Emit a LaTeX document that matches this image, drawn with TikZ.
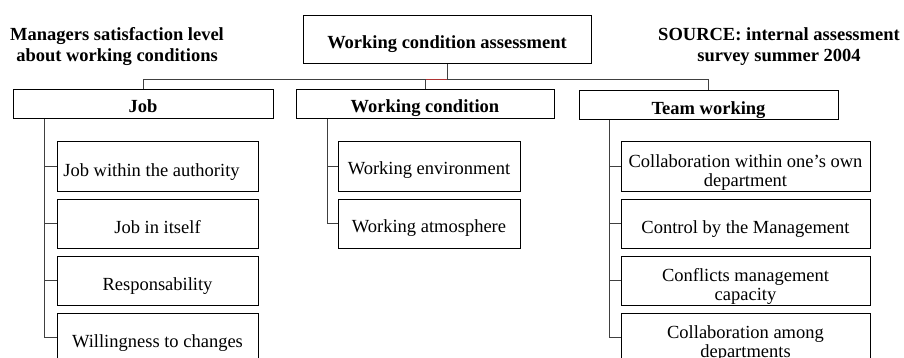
\documentclass[tikz,border=0pt]{standalone}
\usepackage{fontspec}
\setmainfont{Liberation Serif}
\begin{document}
\begin{tikzpicture}[x=1pt,y=-1pt,
  box/.style={draw=black,line width=1pt,inner sep=0pt},
  stxt/.style={inner sep=0pt,text height=24pt,text depth=4pt,font=\fontsize{18.5}{18.3}\selectfont},
  mtxt/.style={inner sep=0pt,align=center,yshift=-6pt,font=\fontsize{18.5}{18.5}\selectfont},
  htxt/.style={inner sep=0pt,text height=21pt,text depth=4pt,font=\fontsize{18.5}{18.3}\selectfont\bfseries},
  headbox/.style={box,minimum height=29pt},
  subbox/.style={box,minimum height=49pt},
  conn/.style={draw=black!75,line width=0.8pt},
  note/.style={align=center,font=\fontsize{18.5}{21}\selectfont\bfseries,inner sep=0pt}]
\clip (0,0) rectangle (904,358);
\fill[white] (0,0) rectangle (904,358);

\node[box,minimum width=288pt,minimum height=48pt,label={[htxt,text height=20.6pt]center:Working condition assessment}] (top) at (447,40) {};

\node[note] (left) at (117,47) {Managers satisfaction level\\about working conditions};
\node[note] (right) at (779,47) {SOURCE: internal assessment\\survey summer 2004};

\node[headbox,minimum width=260pt,label={[htxt]center:Job}] (job) at (143,104.5) {};
\node[headbox,minimum width=258pt,label={[htxt]center:Working condition}] (wc) at (425,104.5) {};
\node[headbox,minimum width=259pt,label={[htxt,yshift=-1pt]center:Team working}] (team) at (708.5,105.5) {};

\coordinate (bus) at (0,79);

% job children
\node[subbox,minimum width=201pt,label={[stxt,xshift=-6pt]center:Job within the authority}] (j1) at (157.5,166.5) {};
\node[subbox,minimum width=201pt,label={[stxt]center:Job in itself}] (j2) at (157.5,223.5) {};
\node[subbox,minimum width=201pt,label={[stxt]center:Responsability}] (j3) at (157.5,280.5) {};
\node[subbox,minimum width=201pt,label={[stxt]center:Willingness to changes}] (j4) at (157.5,337.5) {};

% working condition children
\node[subbox,minimum width=182pt,label={[stxt,text height=21pt]center:Working environment}] (w1) at (429,166.5) {};
\node[subbox,minimum width=182pt,label={[stxt,text height=21pt]center:Working atmosphere}] (w2) at (429,223.5) {};

% team children
\node[subbox,minimum width=249pt,label={[mtxt]center:Collaboration within one’s own\\department}] (t1) at (745.5,166.5) {};
\node[subbox,minimum width=249pt,label={[stxt]center:Control by the Management}] (t2) at (745.5,223.5) {};
\node[subbox,minimum width=249pt,label={[mtxt]center:Conflicts management\\capacity}] (t3) at (745.5,280.5) {};
\node[subbox,minimum width=249pt,label={[mtxt]center:Collaboration among\\departments}] (t4) at (745.5,337.5) {};

% top level connectors
\draw[conn] (top.south) -- (top.south |- bus);
\draw[conn] (job.north) -- (job.north |- bus) -- (wc.north |- bus);
\draw[draw=red!60!black!80,line width=0.8pt] (wc.north |- bus) -- (top.south |- bus);
\draw[conn] (top.south |- bus) -- (team.north |- bus) -- (team.north);
\draw[conn] (wc.north) -- (wc.north |- bus);

% spines
\coordinate (js) at ([xshift=32pt]job.south west);
\coordinate (ws) at ([xshift=32pt]wc.south west);
\coordinate (ts) at ([xshift=31pt]team.south west);

\draw[conn] (js) |- (j4.west);
\draw[conn] (js |- j1.west) -- (j1.west);
\draw[conn] (js |- j2.west) -- (j2.west);
\draw[conn] (js |- j3.west) -- (j3.west);

\draw[conn] (ws) |- (w2.west);
\draw[conn] (ws |- w1.west) -- (w1.west);

\draw[conn] (ts) |- (t4.west);
\draw[conn] (ts |- t1.west) -- (t1.west);
\draw[conn] (ts |- t2.west) -- (t2.west);
\draw[conn] (ts |- t3.west) -- (t3.west);
\end{tikzpicture}
\end{document}
